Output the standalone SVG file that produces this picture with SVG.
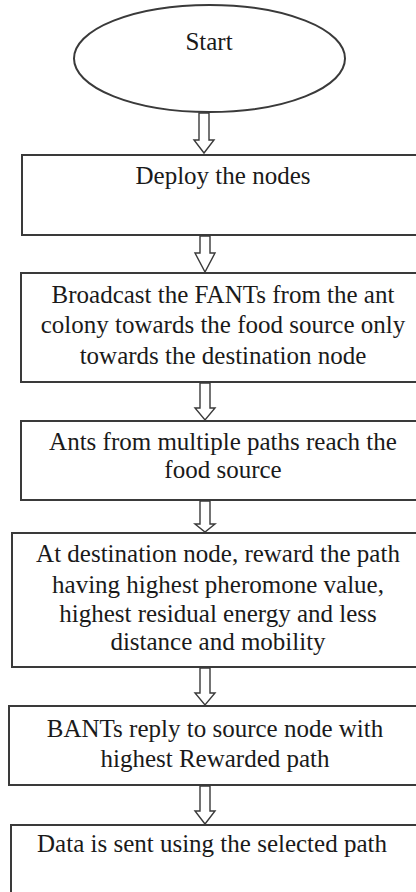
<svg xmlns="http://www.w3.org/2000/svg" width="416" height="892" viewBox="0 0 416 892" font-family="'Liberation Serif', 'Times New Roman', Times, serif">
<style>
.box{fill:#fff;stroke:#3a3a3a;stroke-width:2}
.arr{fill:#fff;stroke:#3a3a3a;stroke-width:1.4;stroke-linejoin:miter}
text{font-family:'Liberation Serif', 'Times New Roman', Times, serif;font-size:25px;fill:#1a1a1a;text-anchor:middle}
</style>
<rect width="416" height="892" fill="#fff"/>
<g id="start">
<ellipse cx="209.5" cy="58.5" rx="135.5" ry="53.5" class="box" stroke-width="1.6"/>
<text x="209" y="50" font-size="23">Start</text>
</g>
<g id="deploy">
<rect x="22" y="155" width="410" height="80" class="box"/>
<text x="223" y="184">Deploy the nodes</text>
</g>
<g id="broadcast">
<rect x="21" y="273" width="410" height="109" class="box"/>
<text x="223" y="303">Broadcast the FANTs from the ant</text>
<text x="223" y="333">colony towards the food source only</text>
<text x="223" y="364">towards the destination node</text>
</g>
<g id="reach">
<rect x="21" y="421" width="410" height="79" class="box"/>
<text x="223" y="450">Ants from multiple paths reach the</text>
<text x="223" y="478">food source</text>
</g>
<g id="reward">
<rect x="12" y="533" width="420" height="134" class="box"/>
<text x="218" y="562">At destination node, reward the path</text>
<text x="218" y="593">having highest pheromone value,</text>
<text x="218" y="622">highest residual energy and less</text>
<text x="218" y="650">distance and mobility</text>
</g>
<g id="bants">
<rect x="9" y="706" width="420" height="79" class="box"/>
<text x="215" y="737">BANTs reply to source node with</text>
<text x="215" y="767">highest Rewarded path</text>
</g>
<g id="data">
<rect x="11" y="825" width="420" height="80" class="box"/>
<text x="212" y="852">Data is sent using the selected path</text>
</g>
<g id="connectors">
<path class="arr" d="M199,113 H209 V140 H214 L204,153 L194,140 H199 Z"/>
<path class="arr" d="M200,236 H210 V253 H215 L205,272 L195,253 H200 Z"/>
<path class="arr" d="M200,383 H210 V408 H215 L205,420 L195,408 H200 Z"/>
<path class="arr" d="M200,501 H210 V524 H215 L205,532 L195,524 H200 Z"/>
<path class="arr" d="M200,668 H210 V693 H215 L205,705 L195,693 H200 Z"/>
<path class="arr" d="M200,786 H210 V811 H215 L205,824 L195,811 H200 Z"/>
</g>
</svg>
